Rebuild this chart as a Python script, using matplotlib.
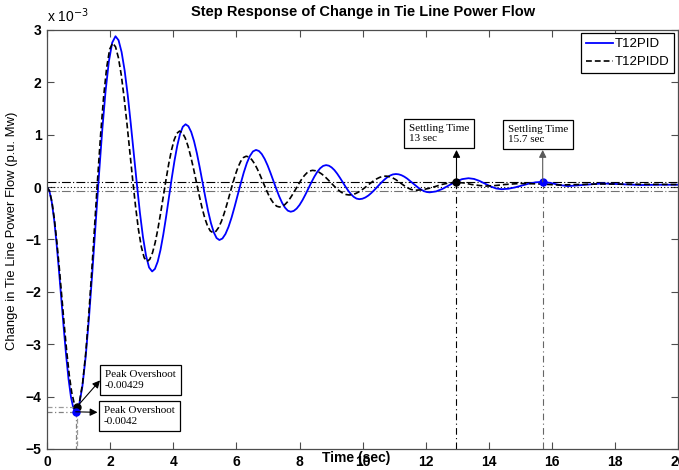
import matplotlib
matplotlib.use("Agg")
import matplotlib.pyplot as plt

plt.rcParams['font.family'] = ['Liberation Sans', 'DejaVu Sans']

# time (s) and change in tie line power (x 1e-3 p.u. MW)
t_pid = [0, 0.076, 0.152, 0.228, 0.303, 0.379, 0.455, 0.531, 0.607, 0.682, 0.758, 0.834,
         0.91, 1.015, 1.12, 1.225, 1.33, 1.435, 1.54, 1.645, 1.75, 1.855, 1.96, 2.065,
         2.17, 2.267, 2.363, 2.46, 2.557, 2.653, 2.75, 2.847, 2.943, 3.04, 3.137, 3.233,
         3.33, 3.418, 3.507, 3.595, 3.683, 3.772, 3.86, 3.948, 4.037, 4.125, 4.213, 4.302,
         4.39, 4.479, 4.568, 4.658, 4.747, 4.836, 4.925, 5.014, 5.103, 5.193, 5.282, 5.371,
         5.46, 5.557, 5.653, 5.75, 5.847, 5.943, 6.04, 6.137, 6.233, 6.33, 6.427, 6.523,
         6.62, 6.712, 6.803, 6.895, 6.987, 7.078, 7.17, 7.262, 7.353, 7.445, 7.537, 7.628,
         7.72, 7.813, 7.907, 8.0, 8.093, 8.187, 8.28, 8.373, 8.467, 8.56, 8.653, 8.747,
         8.84, 8.928, 9.015, 9.103, 9.19, 9.278, 9.365, 9.453, 9.54, 9.628, 9.715, 9.803,
         9.89, 9.987, 10.083, 10.18, 10.277, 10.373, 10.47, 10.567, 10.663, 10.76, 10.857, 10.953,
         11.05, 11.139, 11.228, 11.318, 11.407, 11.496, 11.585, 11.674, 11.763, 11.853, 11.942, 12.031,
         12.12, 12.325, 12.53, 12.735, 12.94, 13.145,
         13.35, 13.525, 13.70, 13.875, 14.05, 14.225,
         14.40, 14.613, 14.827, 15.04, 15.253, 15.467,
         15.68, 15.95, 16.23, 16.50, 17.05, 17.60, 18.2, 18.8, 19.4, 20.0]
y_pid = [0, -0.073, -0.287, -0.628, -1.073, -1.59, -2.145, -2.698, -3.218, -3.663, -4.003, -4.217,
         -4.29, -4.168, -3.81, -3.24, -2.497, -1.633, -0.705, 0.22, 1.088, 1.83, 2.4, 2.758,
         2.88, 2.804, 2.579, 2.224, 1.758, 1.216, 0.635, 0.056, -0.488, -0.954, -1.309, -1.534,
         -1.61, -1.562, -1.422, -1.199, -0.908, -0.569, -0.205, 0.157, 0.498, 0.789, 1.012, 1.152,
         1.20, 1.162, 1.052, 0.876, 0.648, 0.381, 0.095, -0.19, -0.458, -0.687, -0.862, -0.972,
         -1.01, -0.981, -0.895, -0.758, -0.58, -0.373, -0.15, 0.072, 0.28, 0.459, 0.595, 0.681,
         0.71, 0.69, 0.631, 0.537, 0.415, 0.273, 0.12, -0.032, -0.175, -0.298, -0.391, -0.45,
         -0.47, -0.455, -0.41, -0.34, -0.248, -0.14, -0.025, 0.09, 0.198, 0.29, 0.36, 0.405,
         0.42, 0.409, 0.376, 0.325, 0.258, 0.179, 0.095, 0.011, -0.068, -0.135, -0.186, -0.219,
         -0.23, -0.222, -0.198, -0.16, -0.11, -0.052, 0.01, 0.072, 0.13, 0.18, 0.218, 0.242,
         0.25, 0.244, 0.227, 0.199, 0.163, 0.12, 0.075, 0.03, -0.013, -0.049, -0.077, -0.094,
         -0.10, -0.082, -0.033, 0.035, 0.103, 0.152,
         0.17, 0.156, 0.118, 0.065, 0.013, -0.026,
         -0.04, -0.031, -0.005, 0.03, 0.065, 0.091,
         0.10, 0.08, 0.04, 0.02, 0.045, 0.07, 0.055, 0.04, 0.045, 0.045]

t_pidd = [0, 0.078, 0.157, 0.235, 0.313, 0.392, 0.47, 0.548, 0.627, 0.705, 0.783, 0.862,
          0.94, 1.035, 1.13, 1.225, 1.32, 1.415, 1.51, 1.605, 1.70, 1.795, 1.89, 1.985,
          2.08, 2.171, 2.262, 2.353, 2.443, 2.534, 2.625, 2.716, 2.807, 2.897, 2.988, 3.079,
          3.17, 3.256, 3.342, 3.428, 3.513, 3.599, 3.685, 3.771, 3.857, 3.943, 4.028, 4.114,
          4.20, 4.288, 4.377, 4.465, 4.553, 4.642, 4.73, 4.818, 4.907, 4.995, 5.083, 5.172,
          5.26, 5.348, 5.435, 5.523, 5.61, 5.698, 5.785, 5.873, 5.96, 6.048, 6.135, 6.223,
          6.31, 6.398, 6.485, 6.573, 6.66, 6.748, 6.835, 6.923, 7.01, 7.098, 7.185, 7.273,
          7.36, 7.448, 7.535, 7.623, 7.71, 7.798, 7.885, 7.973, 8.06, 8.148, 8.235, 8.323,
          8.41, 8.507, 8.603, 8.70, 8.797, 8.893, 8.99, 9.087, 9.183, 9.28, 9.377, 9.473,
          9.57, 9.667, 9.763, 9.86, 9.957, 10.053, 10.15, 10.247, 10.343, 10.44, 10.537, 10.633,
          10.73, 10.809, 10.888, 10.968, 11.047, 11.126, 11.205, 11.284, 11.363, 11.443, 11.522, 11.601,
          11.68, 11.892, 12.103, 12.315, 12.527, 12.738,
          12.95, 13.2, 13.45, 13.7, 13.9, 14.2, 14.5, 15.0, 15.6, 16.2,
          16.8, 17.5, 18.5, 20.0]
y_pidd = [0, -0.071, -0.281, -0.615, -1.05, -1.557, -2.10, -2.643, -3.15, -3.587, -3.919, -4.129,
          -4.20, -4.082, -3.734, -3.183, -2.463, -1.624, -0.725, 0.174, 1.013, 1.733, 2.284, 2.632,
          2.75, 2.679, 2.471, 2.14, 1.708, 1.205, 0.665, 0.127, -0.378, -0.811, -1.141, -1.349,
          -1.42, -1.378, -1.253, -1.056, -0.798, -0.497, -0.175, 0.147, 0.448, 0.705, 0.903, 1.028,
          1.07, 1.037, 0.94, 0.786, 0.585, 0.351, 0.10, -0.151, -0.385, -0.586, -0.74, -0.837,
          -0.87, -0.845, -0.772, -0.656, -0.505, -0.329, -0.14, 0.049, 0.225, 0.377, 0.492, 0.565,
          0.59, 0.574, 0.525, 0.448, 0.348, 0.231, 0.105, -0.02, -0.138, -0.238, -0.315, -0.364,
          -0.38, -0.368, -0.333, -0.278, -0.205, -0.121, -0.03, 0.06, 0.145, 0.218, 0.273, 0.308,
          0.32, 0.312, 0.289, 0.251, 0.203, 0.146, 0.085, 0.024, -0.033, -0.081, -0.119, -0.142,
          -0.15, -0.144, -0.126, -0.097, -0.06, -0.017, 0.03, 0.076, 0.12, 0.157, 0.186, 0.204,
          0.21, 0.205, 0.192, 0.17, 0.143, 0.11, 0.075, 0.04, 0.008, -0.02, -0.042, -0.055,
          -0.06, -0.05, -0.023, 0.015, 0.053, 0.08,
          0.09, 0.08, 0.05, 0.03, 0.02, 0.03, 0.05, 0.07, 0.06, 0.04,
          0.05, 0.06, 0.055, 0.05]

# marked points: peak overshoot and settling time
peak_t = {"pid": 0.91, "pidd": 0.94}
peak_y = {"pid": -4.29, "pidd": -4.20}
settle_t = {"pid": 15.7, "pidd": 12.97}
settle_y = {"pid": 0.10, "pidd": 0.09}
band = [0.09, 0.0, -0.07]

fig = plt.figure(figsize=(6.79, 4.70), dpi=100)
ax = fig.add_axes([0.0692, 0.0447, 0.9300, 0.8915])

# settling bands
ax.axhline(band[0], color="k", lw=0.8, ls=(0, (8, 2, 1, 2)))
ax.axhline(band[1], color="k", lw=0.8, ls=(0, (1, 2)))
ax.axhline(band[2], color="0.45", lw=0.8, ls=(0, (8, 2, 1, 2)))

ax.plot(t_pid, y_pid, color="#0000ff", lw=1.3, label="T12PID")
ax.plot(t_pidd, y_pidd, color="k", lw=1.2, ls=(0, (3.5, 1.8)), label="T12PIDD")

# guide lines to marked points
for k, c in (("pid", "0.5"), ("pidd", "0.6")):
    ax.plot([0, peak_t[k]], [peak_y[k], peak_y[k]], color=c, lw=0.9, ls=(0, (4, 2, 1, 2)))
    ax.plot([peak_t[k], peak_t[k]], [peak_y[k], -5], color=c, lw=0.9, ls=(0, (4, 2, 1, 2)))
ax.plot([settle_t["pidd"]] * 2, [settle_y["pidd"], -5], color="k", lw=0.8, ls=(0, (6, 3, 1, 3)))
ax.plot([settle_t["pid"]] * 2, [settle_y["pid"], -5], color="0.4", lw=0.8, ls=(0, (6, 3, 1, 3)))

ax.plot(peak_t["pidd"], peak_y["pidd"], "o", color="k", ms=5)
ax.plot(peak_t["pid"], peak_y["pid"], "o", color="#0000ff", ms=5)
ax.plot(settle_t["pidd"], settle_y["pidd"], "o", color="k", ms=5)
ax.plot(settle_t["pid"], settle_y["pid"], "o", color="#0000ff", ms=5)

box = dict(boxstyle="square,pad=0.45", fc="white", ec="k", lw=0.9)
tfont = dict(family=["Liberation Serif", "DejaVu Serif"], fontsize=8)
arrow = dict(arrowstyle="-|>", color="k", lw=0.8, mutation_scale=11, shrinkA=0, shrinkB=0)

ax.text(1.84, -3.68, "Peak Overshoot\n-0.00429", va="center", ha="left", bbox=box, **tfont)
ax.text(1.80, -4.37, "Peak Overshoot\n-0.0042", va="center", ha="left", bbox=box, **tfont)
ax.annotate("", xy=(1.68, -3.69), xytext=(peak_t["pidd"], peak_y["pidd"]), arrowprops=arrow)
ax.annotate("", xy=(1.60, -4.30), xytext=(peak_t["pid"], peak_y["pid"]), arrowprops=arrow)

ax.text(11.45, 1.02, "Settling Time\n13 sec", va="center", ha="left", bbox=box, **tfont)
ax.text(14.6, 1.0, "Settling Time\n15.7 sec", va="center", ha="left", bbox=box, **tfont)
ax.annotate("", xy=(settle_t["pidd"], 0.71), xytext=(settle_t["pidd"], settle_y["pidd"]),
            arrowprops=arrow)
ax.annotate("", xy=(settle_t["pid"], 0.71), xytext=(settle_t["pid"], settle_y["pid"]),
            arrowprops=dict(arrow, color="0.35"))

ax.set_xlim(0, 20)
ax.set_ylim(-5, 3)
ax.set_xticks(range(0, 21, 2))
ax.set_yticks(range(-5, 4))
ax.tick_params(direction="in", length=5, width=0.8, top=True, right=True,
               labelsize=10, pad=4, color="0.3")
for lab in ax.get_xticklabels() + ax.get_yticklabels():
    lab.set_fontweight("bold")
for s in ax.spines.values():
    s.set_color("0.3")
    s.set_linewidth(0.9)

ax.text(0.49, -0.022, "Time (sec)", transform=ax.transAxes, ha="center", va="center",
        fontsize=10, fontweight="bold")
ax.set_ylabel("Change in Tie Line Power Flow (p.u. Mw)", fontsize=9.4)
ax.yaxis.set_label_coords(-0.046, 0.52)
ax.set_title("Step Response of Change in Tie Line Power Flow", fontsize=10.5,
             fontweight="bold", pad=10)
ax.text(0.0, 1.012, r"x 10$^{-3}$", transform=ax.transAxes, ha="left", va="bottom",
        fontsize=10)

leg = ax.legend(loc="upper right", bbox_to_anchor=(0.993, 0.992), fontsize=9.5,
                fancybox=False, edgecolor="k", framealpha=1, handlelength=2.1,
                borderaxespad=0, handletextpad=0.1, borderpad=0.35, labelspacing=0.45)
leg.get_frame().set_linewidth(0.9)

fig.savefig("out.png", dpi=100)
